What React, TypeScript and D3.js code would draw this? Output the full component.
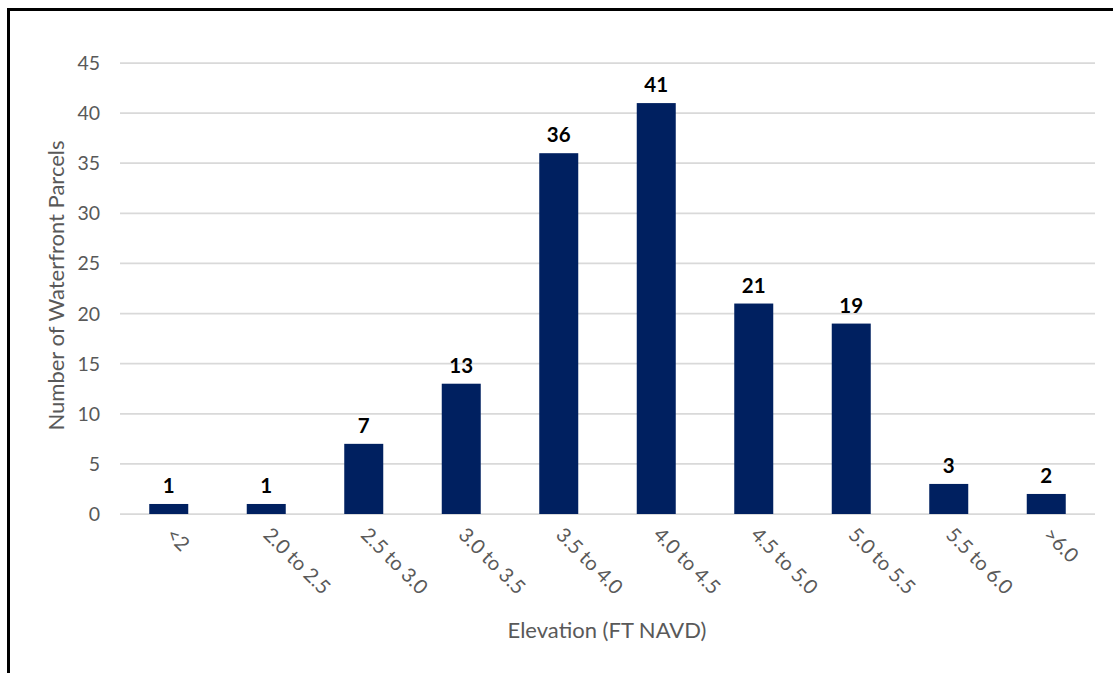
import React from "react";
import * as d3 from "d3";

// Elevation bins and parcel counts
const categories = ["<2", "2.0 to 2.5", "2.5 to 3.0", "3.0 to 3.5", "3.5 to 4.0", "4.0 to 4.5", "4.5 to 5.0", "5.0 to 5.5", "5.5 to 6.0", ">6.0"];
const parcelCounts = [1, 1, 7, 13, 36, 41, 21, 19, 3, 2];
const yTicks = [0, 5, 10, 15, 20, 25, 30, 35, 40, 45];
const xTitle = "Elevation (FT NAVD)";
const yTitle = "Number of Waterfront Parcels";

const W = 1113;
const H = 673;
const margin = { left: 120, right: 1095, top: 63, bottom: 514 };
const FONT = "Lato, 'Open Sans', sans-serif";
const TEXT_GREY = "#595959";
const BAR_BLUE = "#002060";

export default function App() {
  const x = d3
    .scaleBand<string>()
    .domain(categories)
    .range([margin.left, margin.right])
    .paddingInner(0.6)
    .paddingOuter(0.3);
  const y = d3.scaleLinear().domain([0, 45]).range([margin.bottom, margin.top]);

  return (
    <svg
      width={W}
      height={H}
      style={{ position: "absolute", left: 0, top: 0, background: "#fff" }}
      fontFamily={FONT}
    >
      {/* frame */}
      <path d={`M8.5,${H} L8.5,9.5 L${W},9.5`} fill="none" stroke="#000" strokeWidth={3} />

      {/* gridlines */}
      {yTicks.map((t) => (
        <line key={t} x1={margin.left} x2={margin.right} y1={y(t)} y2={y(t)} stroke="#d9d9d9" strokeWidth={1.75} />
      ))}

      {/* y tick labels */}
      {yTicks.map((t) => (
        <text key={t} x={100} y={y(t)} dy="0.36em" textAnchor="end" fontSize={19.5} fill={TEXT_GREY}>
          {t}
        </text>
      ))}

      {/* bars */}
      {categories.map((c, i) => (
        <rect
          key={c}
          x={x(c)!}
          y={y(parcelCounts[i])}
          width={x.bandwidth()}
          height={y(0) - y(parcelCounts[i])}
          fill={BAR_BLUE}
        />
      ))}

      {/* value labels */}
      {categories.map((c, i) => (
        <text
          key={c}
          x={x(c)! + x.bandwidth() / 2}
          y={y(parcelCounts[i]) - 11}
          textAnchor="middle"
          fontSize={20.5}
          fontWeight="bold"
          fill="#000"
        >
          {parcelCounts[i]}
        </text>
      ))}

      {/* x tick labels */}
      {categories.map((c) => {
        const cx = x(c)! + x.bandwidth() / 2;
        return (
          <text
            key={c}
            transform={`translate(${cx - 4},${536}) rotate(45)`}
            textAnchor="start"
            fontSize={20}
            fill={TEXT_GREY}
          >
            {c}
          </text>
        );
      })}

      {/* axis titles */}
      <text x={607} y={638} textAnchor="middle" fontSize={22} fill={TEXT_GREY}>
        {xTitle}
      </text>
      <text
        transform={`translate(64,${(margin.top + margin.bottom) / 2 - 3}) rotate(-90)`}
        textAnchor="middle"
        fontSize={22}
        fill={TEXT_GREY}
      >
        {yTitle}
      </text>
    </svg>
  );
}
